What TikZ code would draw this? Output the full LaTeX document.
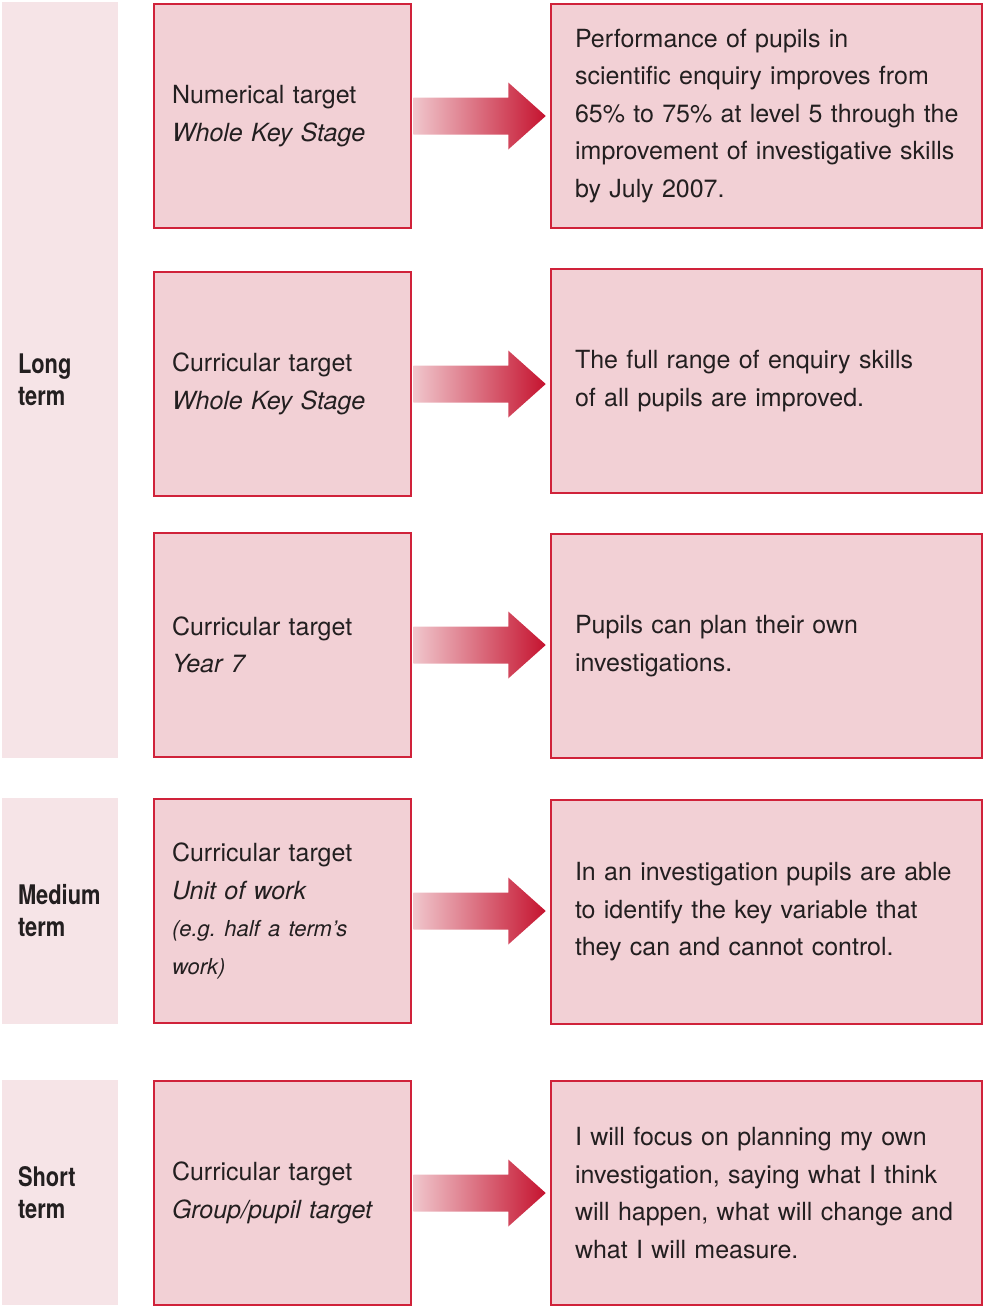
\documentclass[tikz,border=0pt]{standalone}
\usepackage{fontspec}
\setmainfont{TeX Gyre Heros}
\newfontfamily\labelfont[FakeStretch=0.81]{TeX Gyre Heros}
\usetikzlibrary{calc}
\frenchspacing
\definecolor{bandfill}{HTML}{F6E4E7}
\definecolor{boxfill}{HTML}{F2D0D5}
\definecolor{boxline}{HTML}{D0223A}
\definecolor{arrowlight}{HTML}{F0C6CC}
\definecolor{arrowdark}{HTML}{C5132F}
\definecolor{ink}{HTML}{231F20}
\newcommand\gradarrow[2]{%
  \path[arrowfill] ($(#1.east)+(1,18.5)$) -- ($(#1.east)+(96,18.5)$) -- ($(#1.east)+(96,33.5)$)
    -- ($(#1.east -| #2.west)+(-4,0)$)
    -- ($(#1.east)+(96,-33.5)$) -- ($(#1.east)+(96,-18.5)$) -- ($(#1.east)+(1,-18.5)$) -- cycle;}
\begin{document}
\begin{tikzpicture}[x=1pt,y=-1pt,
  termband/.style={fill=bandfill, draw=none, minimum width=116, inner xsep=16, inner ysep=0,
    text width=84, align=left, text=ink,
    font=\labelfont\bfseries\fontsize{27}{32}\selectfont},
  leftbox/.style={fill=boxfill, draw=boxline, line width=2.5, minimum width=257, minimum height=224,
    inner xsep=18, text width=221, align=left, text=ink,
    font=\fontsize{25}{37.5}\selectfont},
  rightbox/.style={fill=boxfill, draw=boxline, line width=2.5, minimum width=431, minimum height=224,
    inner xsep=24, text width=383, align=left, text=ink,
    font=\fontsize{25}{37.5}\selectfont},
  arrowfill/.style={left color=arrowlight, right color=arrowdark, draw=none}]
\useasboundingbox (0,0) rectangle (984,1307);

\node[termband, minimum height=756] (long) at (60,380) {Long\\term};
\node[termband, minimum height=226] (medium) at (60,911) {Medium\\term};
\node[termband, minimum height=225] (short) at (60,1192.5) {Short\\term};

\node[leftbox] (L1) at (282.5,116) {Numerical target\\\textit{Whole Key Stage}};
\node[rightbox] (R1) at (766.5,116) {Performance of pupils in\\scientific enquiry improves from\\\mbox{65\% to 75\% at level 5 through the}\\improvement of investigative skills\\by July 2007.};

\node[leftbox] (L2) at (282.5,384) {Curricular target\\\textit{Whole Key Stage}};
\node[rightbox] (R2) at (766.5,381) {The full range of enquiry skills\\of all pupils are improved.};

\node[leftbox] (L3) at (282.5,645) {Curricular target\\\textit{Year 7}};
\node[rightbox] (R3) at (766.5,646) {Pupils can plan their own\\investigations.};

\node[leftbox] (L4) at (282.5,911) {Curricular target\\\textit{Unit of work}\\{\fontsize{22}{37.5}\selectfont\textit{(e.g.\ half a term’s}}\\{\fontsize{22}{37.5}\selectfont\textit{work)}}};
\node[rightbox] (R4) at (766.5,912) {In an investigation pupils are able\\to identify the key variable that\\they can and cannot control.};

\node[leftbox] (L5) at (282.5,1193) {Curricular target\\\textit{Group/pupil target}};
\node[rightbox] (R5) at (766.5,1193) {I will focus on planning my own\\investigation, saying what I think\\will happen, what will change and\\what I will measure.};

\gradarrow{L1}{R1}
\gradarrow{L2}{R2}
\gradarrow{L3}{R3}
\gradarrow{L4}{R4}
\gradarrow{L5}{R5}
\end{tikzpicture}
\end{document}
